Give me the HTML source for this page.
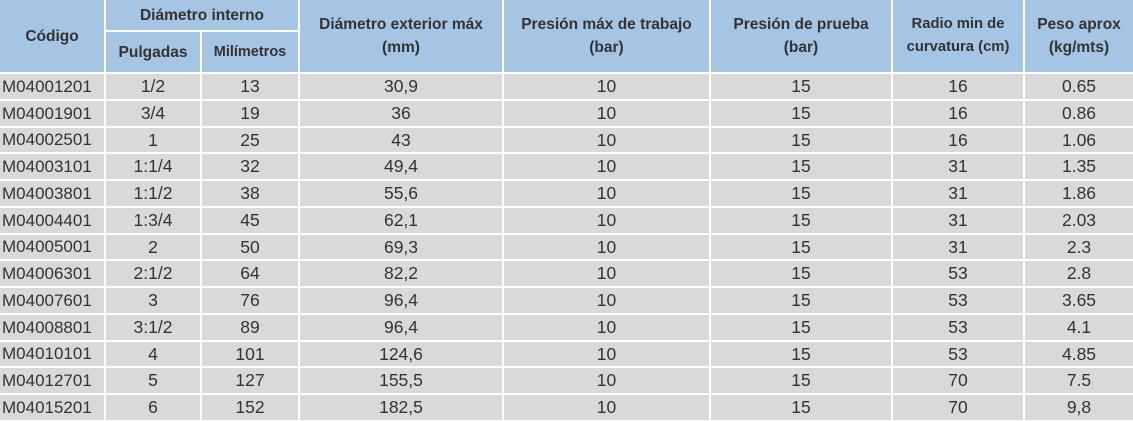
<!DOCTYPE html><html><head><style>
body{margin:0;width:1133px;height:421px;background:#fff;overflow:hidden;font-family:"Liberation Sans",sans-serif;}
.c{position:absolute;display:flex;align-items:center;justify-content:center;text-align:center;box-sizing:border-box;white-space:nowrap;}
.h{background:#a6c5e5;font-weight:bold;font-size:15.5px;color:#333;line-height:23px;}
.d{background:#d9d9d9;font-size:17.5px;color:#333;}
</style></head><body>
<div id="t"></div>
<script>
const cols=[[0,104],[106,200],[202,298],[300,502],[504,709],[711,891],[893,1023],[1025,1133]];
let h='';
function cell(x0,x1,y0,y1,cls,txt,st){h+=`<div class="c ${cls}" style="left:${x0}px;width:${x1-x0}px;top:${y0}px;height:${y1-y0}px;${st||''}">${txt}</div>`;}
cell(0,104,0,72,'h','Código');
cell(106,298,0,30,'h','Diámetro interno');
cell(106,200,32,72,'h','Pulgadas');
cell(202,298,32,72,'h','Milímetros','font-size:14.5px');
const hd=['Diámetro exterior máx<br>(mm)','Presión máx de trabajo<br>(bar)','Presión de prueba<br>(bar)','Radio min de<br>curvatura (cm)','Peso aprox<br>(kg/mts)'];
hd.forEach((t,i)=>cell(cols[i+3][0],cols[i+3][1],0,72,'h',t,i==3?'font-size:14.8px':''));
const rows=[
['M04001201','1/2','13','30,9','16','0.65'],
['M04001901','3/4','19','36','16','0.86'],
['M04002501','1','25','43','16','1.06'],
['M04003101','1:1/4','32','49,4','31','1.35'],
['M04003801','1:1/2','38','55,6','31','1.86'],
['M04004401','1:3/4','45','62,1','31','2.03'],
['M04005001','2','50','69,3','31','2.3'],
['M04006301','2:1/2','64','82,2','53','2.8'],
['M04007601','3','76','96,4','53','3.65'],
['M04008801','3:1/2','89','96,4','53','4.1'],
['M04010101','4','101','124,6','53','4.85'],
['M04012701','5','127','155,5','70','7.5'],
['M04015201','6','152','182,5','70','9,8']];
rows.forEach((r,i)=>{const y0=Math.round(74+i*26.75),y1=Math.round(74+(i+1)*26.75)-2;
const v=[r[0],r[1],r[2],r[3],'10','15',r[4],r[5]];
v.forEach((t,j)=>cell(cols[j][0],cols[j][1],y0,y1,'d',t,j==0?'justify-content:flex-start;padding-left:2px;font-size:17px;':''));});
document.getElementById('t').innerHTML=h;
</script>
</body></html>
